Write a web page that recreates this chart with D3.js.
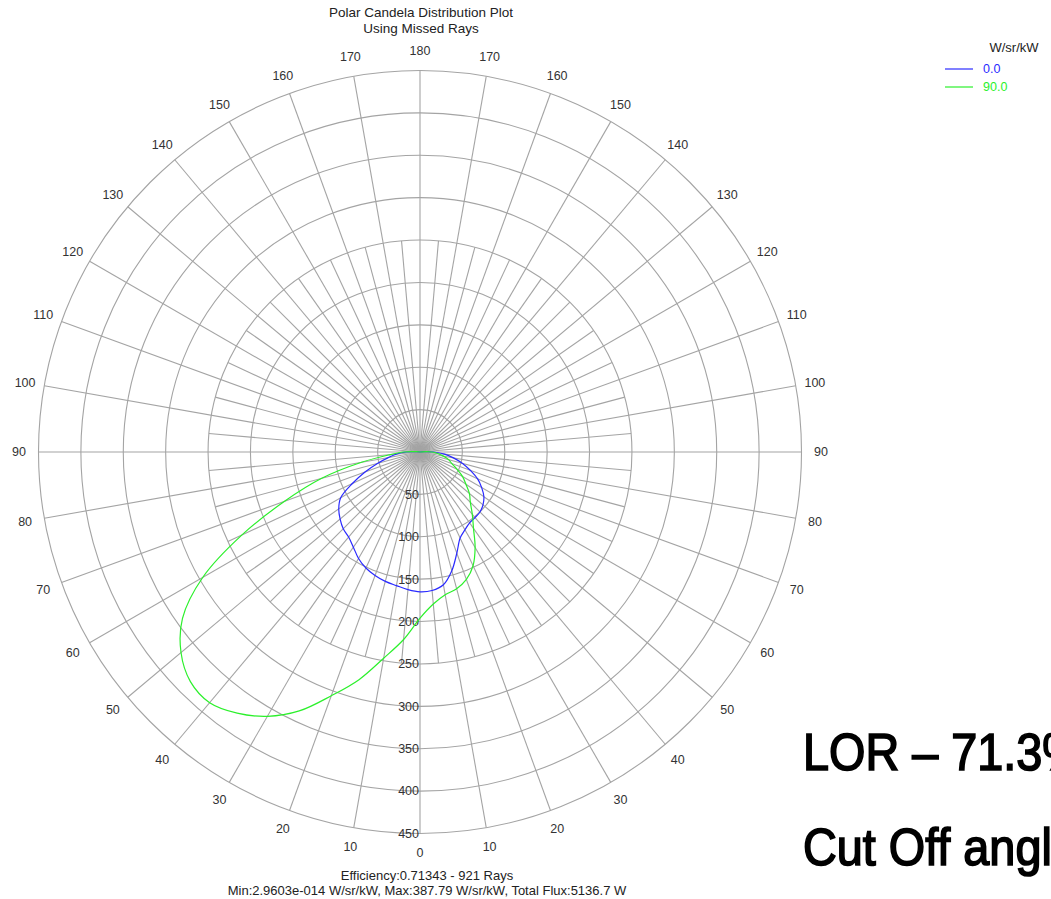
<!DOCTYPE html>
<html>
<head>
<meta charset="utf-8">
<script src="https://cdn.jsdelivr.net/npm/d3@7"></script>
<style>
  body { margin: 0; background: #fff; overflow: hidden; }
  text { font-family: "Liberation Sans", Arial, sans-serif; }
</style>
</head>
<body>
<script>
// polar angles (deg from nadir) and candela values
const angles = [0,5,10,15,20,25,30,35,40,45,50,55,60,65,70,75,80,85,90,95,100];
const blueLeft   = [165,163,160,158,155,151,145,137,131,128,123,117,108,88,69,52,38,28,16,4,0];
const blueRight  = [165,164,159,145,127,112,106,102,101,100,97,92,84,75,63,52,40,29,16,4,0];
const greenLeft  = [196,222,247,278,306,337,360,376,386,383,368,342,296,232,170,120,70,35,20,4,0];
const greenRight = [196,180,171,167,160,148,130,110,96,84,76,66,58,48,40,35,28,21,14,3,0];

const ringValues = [50,100,150,200,250,300,350,400,450];
const angleTicks = d3.range(0, 190, 10);
const legendNames = ["0.0", "90.0"];
const legendTitle = "W/sr/kW";
const titleLines = ["Polar Candela Distribution Plot", "Using Missed Rays"];
const footLines = ["Efficiency:0.71343 - 921 Rays",
  "Min:2.9603e-014 W/sr/kW, Max:387.79 W/sr/kW, Total Flux:5136.7 W"];
const noteLines = ["LOR \u2013 71.3%", "Cut Off angle"];

const colors = ["#2a2aff", "#2bf02b"];

const width = 1051, height = 899;
const cx = 420, cy = 452;
const R = 381.5;

const rScale = d3.scaleLinear().domain([0, 450]).range([0, R]);

const svg = d3.select("body").append("svg")
    .attr("width", width)
    .attr("height", height);

const plot = svg.append("g").attr("transform", `translate(${cx},${cy})`);

// rings
plot.selectAll(".ring")
  .data(ringValues)
  .enter().append("circle")
    .attr("class", "ring")
    .attr("r", d => rScale(d))
    .attr("fill", "none")
    .attr("stroke", "#a4a4a4")
    .attr("stroke-width", 1.1);

// spokes, every 5 deg; the in-between ones stop short
const spokes = d3.range(0, 360, 5);
plot.selectAll(".spoke")
  .data(spokes)
  .enter().append("line")
    .attr("class", "spoke")
    .attr("x1", 0).attr("y1", 0)
    .attr("x2", d => Math.sin(d * Math.PI / 180) * (d % 10 === 0 ? R : rScale(250)))
    .attr("y2", d => Math.cos(d * Math.PI / 180) * (d % 10 === 0 ? R : rScale(250)))
    .attr("stroke", "#a4a4a4")
    .attr("stroke-width", 1.1);

// angle labels on both sides
const labelR = 401;
const angleLabelData = [];
angleTicks.forEach(a => {
  angleLabelData.push({a: a, side: 1});
  if (a !== 0 && a !== 180) angleLabelData.push({a: a, side: -1});
});
plot.selectAll(".alabel")
  .data(angleLabelData)
  .enter().append("text")
    .attr("class", "alabel")
    .attr("x", d => d.side * Math.sin(d.a * Math.PI / 180) * labelR)
    .attr("y", d => Math.cos(d.a * Math.PI / 180) * labelR)
    .attr("dy", "0.35em")
    .attr("text-anchor", "middle")
    .attr("font-size", "12.5px")
    .attr("fill", "#333")
    .text(d => d.a);

// ring value labels down the 0 deg axis
plot.selectAll(".rlabel")
  .data(ringValues)
  .enter().append("text")
    .attr("class", "rlabel")
    .attr("x", -1)
    .attr("y", d => rScale(d))
    .attr("dy", "0.35em")
    .attr("text-anchor", "end")
    .attr("font-size", "12.5px")
    .attr("fill", "#333")
    .text(d => d);

// curves: left half runs 100 -> 0, right half 0 -> 100
const toRad = a => a * Math.PI / 180;
const buildCurve = (left, right) => {
  const pts = [];
  for (let i = angles.length - 1; i >= 0; i--) pts.push([Math.PI + toRad(angles[i]), rScale(left[i])]);
  for (let i = 1; i < angles.length; i++) pts.push([Math.PI - toRad(angles[i]), rScale(right[i])]);
  return pts;
};
const radial = d3.lineRadial()
  .angle(d => d[0])
  .radius(d => d[1])
  .curve(d3.curveCatmullRom);

const series = [
  {name: legendNames[0], data: buildCurve(blueLeft, blueRight), color: colors[0]},
  {name: legendNames[1], data: buildCurve(greenLeft, greenRight), color: colors[1]}
];
series.forEach(s => {
  plot.append("path")
    .datum(s.data)
    .attr("fill", "none")
    .attr("stroke", s.color)
    .attr("stroke-width", 1.2)
    .attr("d", radial);
});

// titles
svg.selectAll(".title")
  .data(titleLines)
  .enter().append("text")
    .attr("x", 421)
    .attr("y", (d, i) => 12 + 16 * i)
    .attr("dy", "0.35em")
    .attr("text-anchor", "middle")
    .attr("font-size", "13.5px")
    .attr("fill", "#222")
    .text(d => d);

svg.selectAll(".foot")
  .data(footLines)
  .enter().append("text")
    .attr("x", 427)
    .attr("y", (d, i) => 875 + 15 * i)
    .attr("dy", "0.35em")
    .attr("text-anchor", "middle")
    .attr("font-size", "13px")
    .attr("fill", "#222")
    .text(d => d);

// legend
svg.append("text")
  .attr("x", 1014).attr("y", 47).attr("dy", "0.35em")
  .attr("text-anchor", "middle")
  .attr("font-size", "13px")
  .attr("fill", "#222")
  .text(legendTitle);
series.forEach((s, i) => {
  svg.append("line")
    .attr("x1", 945).attr("x2", 973)
    .attr("y1", 69 + 18 * i).attr("y2", 69 + 18 * i)
    .attr("stroke", s.color).attr("stroke-width", 1.2);
  svg.append("text")
    .attr("x", 983).attr("y", 69 + 18 * i).attr("dy", "0.35em")
    .attr("font-size", "12.5px")
    .attr("fill", s.color)
    .text(s.name);
});

// big note text at lower right (runs past the page edge, as in the source)
noteLines.forEach((t, i) => {
  svg.append("text")
    .attr("transform", `translate(803,${770 + 95 * i}) scale(0.9,1)`)
    .attr("font-family", "Roboto, sans-serif")
    .attr("font-weight", 400)
    .attr("font-size", "52px")
    .attr("fill", "#000")
    .attr("stroke", "#000")
    .attr("stroke-width", 1.7)
    .text(t);
});
</script>
</body>
</html>
